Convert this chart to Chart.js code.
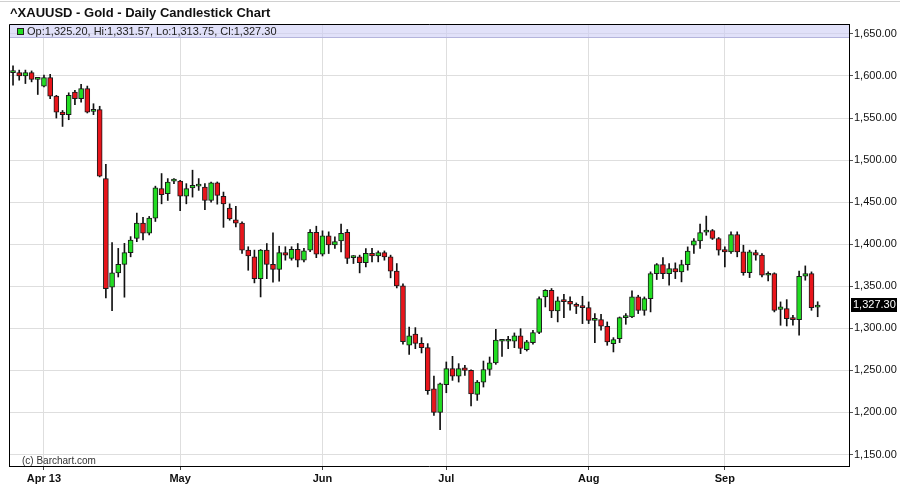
<!DOCTYPE html>
<html>
<head>
<meta charset="utf-8">
<script src="https://cdn.jsdelivr.net/npm/chart.js@4.4.1/dist/chart.umd.min.js"></script>
<style>
  html, body { margin: 0; padding: 0; background: #fff; }
</style>
</head>
<body>
<canvas id="graficoOro" width="900" height="494"></canvas>
<script>
// daily candles, late March -> 20 Sep 2013
const opens = [1604,1604,1600,1604,1596,1588,1598,1576,1557,1554,1581,1573,1585,1558,1560,1478,1349,1366,1376,1390,
  1407,1425,1413,1431,1466,1460,1475,1475,1457,1467,1469,1468,1452,1473,1457,1443,1429,1425,1393,1385,
  1359,1393,1376,1370,1390,1383,1394,1381,1393,1414,1388,1410,1399,1404,1414,1384,1385,1378,1389,1386,
  1390,1385,1368,1350.5,1280,1293,1282,1277,1228,1200,1233,1252,1243,1253,1250,1221.5,1236,1251,1259,1284.6,
  1284.6,1284.6,1291,1274.6,1283,1295,1337.3,1345.3,1320.7,1332.6,1332,1326.6,1326,1324.6,1309.5,1310.4,1302.4,1281.8,1287.7,1312.7,
  1313.5,1337.3,1321.4,1335.3,1365.1,1375.8,1365.1,1371,1367,1375.8,1398.8,1404,1414.3,1416.3,1406.8,1393.7,1390.9,1411.5,1390.9,1366.3,
  1390,1387,1363.1,1365.1,1322.6,1323.4,1312.7,1310.3,1361.9,1365.1,1325.2];
const highs = [1612,1607,1607,1606,1597.5,1601,1602,1577,1559,1580,1583,1590,1588,1567,1564,1495,1402,1395,1401,1409,
  1437,1432,1433,1469,1484,1478,1478,1476,1472,1488,1478,1472,1474,1474,1462,1448,1445,1426.6,1397,1393,
  1393.7,1400.8,1413.5,1397.6,1397,1397,1400.8,1395,1417.5,1421.4,1415.9,1414.7,1408.7,1423.8,1417.5,1386.5,1387,1394.9,1395,1392,
  1392,1387,1377,1353,1301.6,1300.8,1288.9,1281.8,1243.3,1235,1260,1266.7,1258,1256,1250.5,1238,1261.1,1265.9,1298.8,1286,
  1290.5,1294.5,1299.6,1285.7,1297.7,1337.3,1346,1347.3,1337.3,1340.5,1337.3,1330.2,1338.1,1331.4,1317.5,1316.7,1307.6,1288.9,1313.5,1317.5,
  1344.5,1339.3,1337.3,1367.1,1377,1384.1,1377,1377.8,1381,1396.8,1406.8,1423.8,1433.4,1417.5,1408,1396.8,1414.7,1414.7,1398.8,1392.9,
  1392.9,1388.9,1367.1,1366,1331.4,1334.1,1315.5,1367.9,1374.2,1367.1,1331.57];
const lows = [1589,1595,1591,1593,1578,1587,1573,1550,1540,1548,1566,1569,1556,1554,1480,1336,1321,1361,1337,1385,
  1403,1405,1411,1427,1448,1452,1472,1440,1448,1456,1464,1441,1450,1447.6,1420,1428.5,1420.6,1389,1369,1354,
  1337.3,1359,1355,1356,1381,1381,1373,1379,1391,1384,1386,1388.9,1394.9,1390.9,1377,1377,1365.9,1373,1379,1379,
  1381,1360,1348,1281,1269.1,1275.8,1270.7,1221.5,1196.5,1179.4,1223.4,1238.1,1236.1,1244.1,1207.6,1214.3,1230.2,1244.1,1257.2,1266.7,
  1275.8,1277,1269.9,1273,1281,1293.7,1325.4,1312.7,1307.6,1312.7,1321.5,1317.5,1305.6,1305.6,1283,1297.7,1279.8,1271.9,1283,1304.8,
  1312.7,1317.5,1315.5,1319.5,1358,1359.1,1351.2,1359.1,1355.2,1369.1,1388.9,1394.9,1410.7,1405.6,1387,1373,1388.9,1385,1363.1,1360.3,
  1381,1361.1,1356.4,1319.5,1303.6,1302.8,1303.6,1291.7,1357.2,1321.4,1313.75];
const closes = [1605,1600,1604,1596,1597,1598,1576,1557,1554,1577,1573,1585,1557,1560,1481,1347,1366,1376,1390,1405,
  1425,1413,1431,1467,1459,1474,1476,1457,1466,1470,1470,1452,1473,1458,1448,1430,1425,1393,1386,1359,
  1393,1376,1370,1390,1387,1394,1381,1392,1414,1388,1410,1399,1403,1413,1383,1386,1378,1389,1386,1390,
  1385,1368,1350.5,1284,1291,1282,1277,1226,1200,1234,1252,1243,1252,1250,1222,1236,1251,1259,1286,1285.4,
  1285.6,1291,1276,1283.8,1295,1335.4,1345.3,1320.7,1332.6,1331.8,1328.6,1326,1324.6,1309.5,1312,1302.4,1283.8,1286.5,1312.7,1314.3,
  1337.3,1321.4,1335.3,1365.1,1375.8,1365.1,1371,1367,1375.8,1391.7,1404,1413.9,1416.3,1406.8,1392.9,1390.9,1411.5,1390.9,1366.3,1390.9,
  1387,1363.1,1365.1,1321.4,1325.4,1311.5,1310.3,1361.9,1365.1,1324.6,1327.3];

const monthIdx = [5, 27, 50, 70, 93, 115];
const monthLabels = ['Apr 13', 'May', 'Jun', 'Jul', 'Aug', 'Sep'];
const priceTicks = [1150, 1200, 1250, 1300, 1350, 1400, 1450, 1500, 1550, 1600, 1650];

const verde = '#22dd22';
const rojo = '#e8151b';

function precio(v) {
  const s = v.toFixed(2).split('.');
  return s[0].replace(/\B(?=(\d{3})+(?!\d))/g, ',') + '.' + s[1];
}

const textos = {
  id: 'textos',
  beforeDatasetsDraw(chart) {
    const ctx = chart.ctx, a = chart.chartArea;
    ctx.save();
    ctx.fillStyle = 'rgba(205,205,245,0.6)';
    ctx.fillRect(a.left, a.top, a.right - a.left, 13);
    ctx.strokeStyle = '#b4b4dc';
    ctx.beginPath();
    ctx.moveTo(a.left, a.top + 13.5);
    ctx.lineTo(a.right, a.top + 13.5);
    ctx.stroke();
    ctx.restore();
  },
  afterDraw(chart) {
    const ctx = chart.ctx, a = chart.chartArea;
    const n = closes.length - 1;
    ctx.save();
    // top rule + title
    ctx.strokeStyle = '#d0d0d0';
    ctx.beginPath(); ctx.moveTo(0, 1.5); ctx.lineTo(900, 1.5); ctx.stroke();
    ctx.fillStyle = '#111';
    ctx.font = 'bold 13px "Liberation Sans", Arial, sans-serif';
    ctx.textBaseline = 'middle';
    ctx.fillText('^XAUUSD - Gold - Daily Candlestick Chart', 10, 13);
    // frame left + top
    ctx.strokeStyle = '#000';
    ctx.lineWidth = 1;
    ctx.beginPath();
    ctx.moveTo(a.left + 0.5, a.bottom); ctx.lineTo(a.left + 0.5, a.top + 0.5); ctx.lineTo(a.right, a.top + 0.5);
    ctx.stroke();
    // legend line
    ctx.fillStyle = closes[n] >= opens[n] ? verde : rojo;
    ctx.fillRect(17, a.top + 4, 7, 7);
    ctx.strokeStyle = '#222';
    ctx.strokeRect(17.5, a.top + 4.5, 6, 6);
    ctx.fillStyle = '#222';
    ctx.font = '11px "Liberation Sans", Arial, sans-serif';
    ctx.fillText('Op:' + precio(opens[n]) + ', Hi:' + precio(highs[n]) + ', Lo:' + precio(lows[n]) + ', Cl:' + precio(closes[n]), 27, a.top + 8);
    // copyright
    ctx.font = '10px "Liberation Sans", Arial, sans-serif';
    ctx.fillStyle = '#333';
    ctx.fillText('(c) Barchart.com', 22, a.bottom - 5);
    // last price box
    const y = chart.scales.y.getPixelForValue(closes[n]);
    ctx.fillStyle = '#000';
    ctx.fillRect(a.right + 2, Math.round(y) - 7, 46, 14);
    ctx.fillStyle = '#fff';
    ctx.font = '11px "Liberation Sans", Arial, sans-serif';
    ctx.fillText(precio(closes[n]), a.right + 4, Math.round(y));
    ctx.restore();
  }
};

const ctxOro = document.getElementById('graficoOro');
new Chart(ctxOro, {
  type: 'bar',
  data: {
    datasets: [{
      label: 'Cuerpo',
      data: opens.map((o, i) => ({ x: i, y: [o, closes[i]] })),
      backgroundColor: opens.map((o, i) => closes[i] >= o ? verde : rojo),
      borderColor: '#1a1a1a',
      borderWidth: 1,
      borderSkipped: false,
      barThickness: 5,
      minBarLength: 2,
      grouped: false
    }, {
      label: 'Mecha',
      data: lows.map((l, i) => ({ x: i, y: [l, highs[i]] })),
      backgroundColor: '#111',
      borderWidth: 0,
      barThickness: 1,
      grouped: false
    }]
  },
  options: {
    responsive: false,
    animation: false,
    layout: { padding: { top: 24, left: 9, right: 0, bottom: 0 } },
    plugins: {
      legend: { display: false },
      title: { display: false },
      tooltip: { enabled: false }
    },
    scales: {
      x: {
        type: 'linear',
        min: -0.65,
        max: 135.06,
        offset: false,
        afterBuildTicks: (axis) => { axis.ticks = monthIdx.map(v => ({ value: v })); },
        afterFit: (axis) => { axis.height = 28; },
        grid: { offset: false, color: '#dedede', tickColor: '#444', tickLength: 4 },
        border: { color: '#000', width: 1 },
        ticks: {
          autoSkip: false,
          maxRotation: 0,
          padding: 2,
          color: '#111',
          font: { family: '"Liberation Sans", Arial, sans-serif', size: 11, weight: 'bold' },
          callback: (v, i) => monthLabels[i]
        }
      },
      y: {
        position: 'right',
        min: 1136.3,
        max: 1661.8,
        afterBuildTicks: (axis) => { axis.ticks = priceTicks.map(v => ({ value: v })); },
        afterFit: (axis) => { axis.width = 51; },
        grid: { color: '#dedede', tickColor: '#555', tickLength: 4 },
        border: { color: '#000', width: 1 },
        ticks: {
          padding: 1,
          color: '#111',
          font: { family: '"Liberation Sans", Arial, sans-serif', size: 11 },
          callback: (v) => precio(v)
        }
      }
    }
  },
  plugins: [textos]
});
</script>
</body>
</html>
